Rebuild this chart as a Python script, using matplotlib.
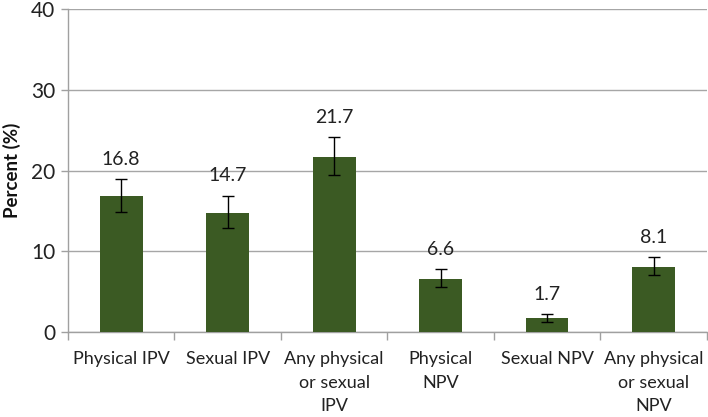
import matplotlib
matplotlib.use("Agg")
import matplotlib.pyplot as plt
import numpy as np

categories = ["Physical IPV", "Sexual IPV", "Any physical\nor sexual\nIPV",
              "Physical\nNPV", "Sexual NPV", "Any physical\nor sexual\nNPV"]
values = [16.8, 14.7, 21.7, 6.6, 1.7, 8.1]
ci_lower = [14.9, 12.9, 19.5, 5.6, 1.2, 7.1]
ci_upper = [19.0, 16.9, 24.2, 7.8, 2.2, 9.3]
labels = ["16.8", "14.7", "21.7", "6.6", "1.7", "8.1"]

plt.rcParams['font.family'] = ['Lato', 'DejaVu Sans']

fig = plt.figure(figsize=(7.08, 4.17), dpi=100)
ax = fig.add_axes([0.096, 0.204, 0.9025, 0.774])

x = np.arange(len(values))
vals = np.array(values)
yerr = np.array([vals - np.array(ci_lower), np.array(ci_upper) - vals])
bar_color = "#3B5A23"
ax.bar(x, vals, width=0.4, color=bar_color, zorder=3)
ax.errorbar(x, vals, yerr=yerr, fmt='none', ecolor='black', elinewidth=1.0,
            capsize=4, capthick=1.0, zorder=4)

for xi, up, lab in zip(x, ci_upper, labels):
    ax.annotate(lab, (xi, up), xytext=(0, 8), textcoords='offset points',
                ha='center', va='bottom', fontsize=14, color='#222222')

ax.set_xlim(-0.5, len(values) - 0.5)
ax.set_ylim(0, 40)
ax.set_yticks([0, 10, 20, 30, 40])
ax.tick_params(axis='y', labelsize=15, length=5, color='#A0A0A0', width=1, pad=4,
               labelcolor='#222222')
ax.yaxis.grid(True, color='#A6A6A6', linewidth=1, zorder=0)
ax.set_axisbelow(True)

ax.set_xticks(x)
ax.set_xticklabels(categories, fontsize=13, color='#222222', linespacing=1.55)
ax.tick_params(axis='x', which='major', length=0, pad=14)
ax.set_xticks(np.arange(-0.5, len(values)), minor=True)
ax.tick_params(axis='x', which='minor', length=6, color='#A0A0A0', width=1)

for s in ['top', 'right']:
    ax.spines[s].set_visible(False)
for s in ['left', 'bottom']:
    ax.spines[s].set_color('#A0A0A0')
    ax.spines[s].set_linewidth(1)

ax.set_ylabel("Percent (%)", fontsize=13.5, fontweight='bold', color='#111111', labelpad=7)

fig.savefig("out.png", dpi=100)
